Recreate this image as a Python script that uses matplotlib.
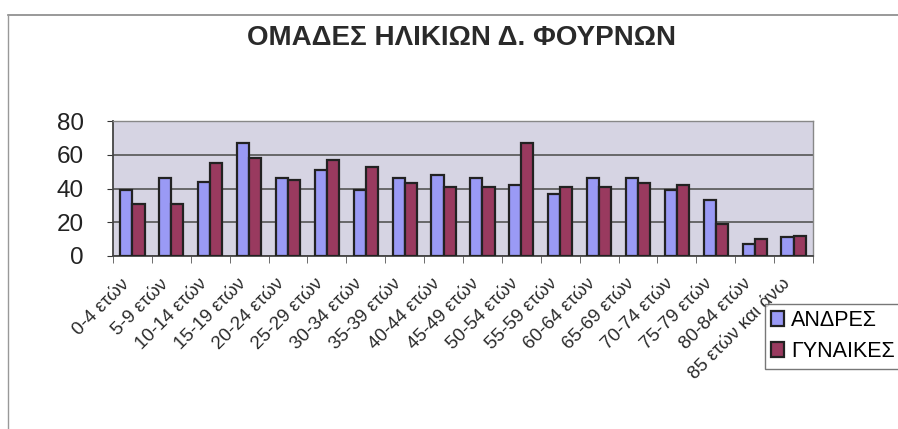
import matplotlib.pyplot as plt
import matplotlib.transforms as mtransforms
import numpy as np

# ===== Data =====
age_groups = ["0-4 ετών", "5-9 ετών", "10-14 ετών", "15-19 ετών", "20-24 ετών",
              "25-29 ετών", "30-34 ετών", "35-39 ετών", "40-44 ετών", "45-49 ετών",
              "50-54 ετών", "55-59 ετών", "60-64 ετών", "65-69 ετών", "70-74 ετών",
              "75-79 ετών", "80-84 ετών", "85 ετών και άνω"]
men = [39, 46, 44, 67, 46, 51, 39, 46, 48, 46, 42, 37, 46, 46, 39, 33, 7, 11]
women = [31, 31, 55, 58, 45, 57, 53, 43, 41, 41, 67, 41, 41, 43, 42, 19, 10, 12]

title = "ΟΜΑΔΕΣ ΗΛΙΚΙΩΝ Δ. ΦΟΥΡΝΩΝ"
series_names = ["ΑΝΔΡΕΣ", "ΓΥΝΑΙΚΕΣ"]

# ===== Figure =====
plt.rcParams['font.family'] = ['Liberation Sans', 'DejaVu Sans']

fig = plt.figure(figsize=(8.98, 4.29), dpi=100)
ax = fig.add_axes([113 / 898, 1 - 256 / 429, 700 / 898, 135 / 429])

x = np.arange(len(age_groups))
w = 0.31
b1 = ax.bar(x - w / 2, men, w, color='#9a9af5', edgecolor='#222222', linewidth=1.6,
            label=series_names[0], zorder=3)
b2 = ax.bar(x + w / 2, women, w, color='#993a5f', edgecolor='#222222', linewidth=1.6,
            label=series_names[1], zorder=3)

ax.set_facecolor('#d6d4e3')
ax.set_xlim(-0.5, len(age_groups) - 0.5)
ax.set_ylim(0, 80)
ax.set_yticks([0, 20, 40, 60, 80])
ax.tick_params(axis='y', labelsize=17.5, length=4, pad=17, colors='#333333', labelcolor='#222222')
ax.yaxis.grid(True, color='#555555', linewidth=1.2, zorder=1)

# category labels at centers, tick marks on the boundaries
ax.set_xticks(x)
ax.set_xticklabels(age_groups, rotation=45, ha='right', rotation_mode='anchor', fontsize=13.5,
                   color='#2a2a2a')
ax.tick_params(axis='x', length=0, pad=14)
shift = mtransforms.ScaledTranslation(-12 / 100, 0, fig.dpi_scale_trans)
for lbl in ax.get_xticklabels():
    lbl.set_transform(lbl.get_transform() + shift)
ax.set_xticks(np.arange(-0.5, len(age_groups)), minor=True)
ax.tick_params(axis='x', which='minor', length=5, color='#555555')

for side in ['left', 'bottom']:
    ax.spines[side].set_color('#444444')
    ax.spines[side].set_linewidth(1.3)
for side in ['top', 'right']:
    ax.spines[side].set_color('#888888')
    ax.spines[side].set_linewidth(1.0)

fig.text(462 / 898, 1 - 38 / 429, title, ha='center', va='center', fontsize=20,
         fontweight='bold', color='#2a2a2a')

leg = fig.legend(handles=[b1, b2], loc='upper left', bbox_to_anchor=(765 / 898, 1 - 304 / 429),
                 fontsize=15.5, frameon=True, fancybox=False, edgecolor='#555555',
                 handlelength=0.6, handleheight=0.7, handletextpad=0.3,
                 borderpad=0.3, labelspacing=0.45, borderaxespad=0)
leg.get_frame().set_linewidth(1.0)

# chart area frame
fig.add_artist(plt.Line2D([8 / 898, 1], [1 - 15 / 429, 1 - 15 / 429], color='#888888', linewidth=1.2))
fig.add_artist(plt.Line2D([8 / 898, 8 / 898], [0, 1 - 15 / 429], color='#999999', linewidth=1.0))

plt.savefig('out.png', dpi=100)
